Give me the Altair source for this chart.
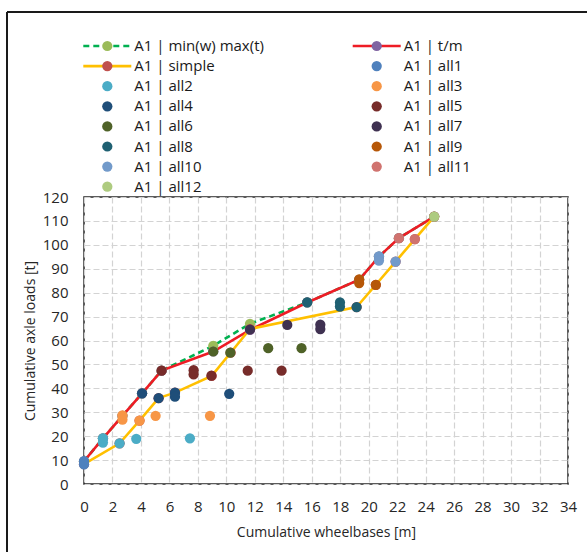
import altair as alt
import pandas as pd

# ---------------- data ----------------
X_TICKS = list(range(0, 35, 2))
Y_TICKS = list(range(0, 121, 10))

SERIES = ["A1 | min(w) max(t)", "A1 | t/m", "A1 | simple"] + [f"A1 | all{i}" for i in range(1, 13)]

# path series (cumulative wheelbase [m], cumulative axle load [t])
minw_x = [0, 1.33, 2.7, 4.08, 5.45, 9.08, 11.66, 15.68, 19.33, 20.72, 22.12, 24.6]
minw_y = [9.5, 19.1, 28.5, 37.9, 47.4, 57.8, 67.0, 75.9, 85.4, 95.1, 102.8, 111.8]
tm_x = [0, 1.33, 2.7, 4.08, 5.45, 9.08, 11.66, 15.68, 19.33, 20.72, 22.12, 24.6]
tm_y = [9.5, 19.1, 28.5, 37.9, 47.4, 55.4, 64.4, 75.9, 85.4, 95.1, 102.8, 111.8]
simple_x = [0, 2.5, 3.9, 5.24, 6.39, 8.97, 10.3, 11.66, 19.15, 20.5, 21.89, 23.24, 24.6]
simple_y = [8.3, 17.0, 26.5, 35.9, 38.2, 45.2, 54.9, 64.8, 74.0, 83.3, 93.0, 102.4, 111.8]

# scatter series
all1_x = [0, 0];                              all1_y = [9.6, 8.2]
all2_x = [1.33, 1.33, 2.5, 3.67, 7.44];       all2_y = [19.1, 17.3, 17.0, 18.9, 19.1]
all3_x = [2.7, 2.7, 3.9, 5.03, 8.85];         all3_y = [28.7, 26.9, 26.5, 28.5, 28.5]
all4_x = [4.08, 5.24, 6.39, 6.39, 10.2];      all4_y = [37.9, 35.9, 38.2, 36.5, 37.7]
all5_x = [5.45, 7.7, 7.7, 8.95, 11.5, 13.88]; all5_y = [47.4, 47.6, 45.8, 45.3, 47.4, 47.4]
all6_x = [9.08, 10.28, 12.94, 15.28];         all6_y = [55.4, 54.9, 56.8, 56.8]
all7_x = [11.66, 14.28, 16.6, 16.6];          all7_y = [64.6, 66.5, 66.6, 64.8]
all8_x = [15.68, 17.98, 17.98, 19.15];        all8_y = [75.9, 75.9, 74.2, 74.0]
all9_x = [19.33, 19.33, 20.5];                all9_y = [85.6, 84.0, 83.3]
all10_x = [20.72, 20.72, 21.89];              all10_y = [95.2, 93.4, 93.0]
all11_x = [22.12, 23.24];                     all11_y = [102.8, 102.4]
all12_x = [24.6];                             all12_y = [111.8]

# ---------------- styles ----------------
MARKER_COLORS = ["#9BBB59", "#8064A2", "#C0504D",
                 "#4F81BD", "#4BACC6", "#F79646", "#1F4E79", "#772C2A", "#4F6228",
                 "#3F3151", "#1F6072", "#B65708", "#729ACA", "#D0736F", "#AECB80"]
LINE_COLORS = {"A1 | min(w) max(t)": "#00B050", "A1 | t/m": "#EE1C25", "A1 | simple": "#FFC000"}
FONT = "Open Sans"
DOT = 105

paths = [(minw_x, minw_y), (tm_x, tm_y), (simple_x, simple_y)]
scatters = [(all1_x, all1_y), (all2_x, all2_y), (all3_x, all3_y), (all4_x, all4_y),
            (all5_x, all5_y), (all6_x, all6_y), (all7_x, all7_y), (all8_x, all8_y),
            (all9_x, all9_y), (all10_x, all10_y), (all11_x, all11_y), (all12_x, all12_y)]

rows = []
for s, (xs, ys) in enumerate(paths + scatters):
    for i, (xv, yv) in enumerate(zip(xs, ys)):
        rows.append({"series": SERIES[s], "s": s, "i": i, "x": xv, "y": yv,
                     "color": MARKER_COLORS[s]})
df = pd.DataFrame(rows)

leg = pd.DataFrame({"label": SERIES,
                    "row": [k // 2 for k in range(len(SERIES))],
                    "col": [k % 2 for k in range(len(SERIES))],
                    "color": MARKER_COLORS})

# ---------------- main plot ----------------
common_axis = dict(grid=True, gridDash=[6, 3], gridColor="#d3d3d3", gridWidth=1.2,
                   ticks=False, domain=False, labelFlush=False,
                   labelFontSize=15, titleFontSize=14, labelFont=FONT, titleFont=FONT,
                   labelColor="#262626", titleColor="#262626", titleFontWeight="normal")
x_enc = alt.X("x:Q", scale=alt.Scale(domain=[0, 34], nice=False),
              axis=alt.Axis(values=X_TICKS, title="Cumulative wheelbases [m]",
                            labelPadding=15, titlePadding=11, **common_axis))
y_enc = alt.Y("y:Q", scale=alt.Scale(domain=[0, 120], nice=False),
              axis=alt.Axis(values=Y_TICKS, title="Cumulative axle loads [t]",
                            labelPadding=16, titlePadding=5, **common_axis))

base = alt.Chart(df)
def path(name, **kw):
    return base.transform_filter(alt.datum.series == name).mark_line(
        color=LINE_COLORS[name], strokeWidth=2.6, **kw).encode(
        x=x_enc, y=y_enc, order="i:Q")

line_layers = [
    path("A1 | min(w) max(t)", strokeDash=[6, 4]),
    path("A1 | t/m"),
    path("A1 | simple"),
]
path_markers = base.transform_filter(alt.datum.s < 3).mark_circle(size=DOT, opacity=1).encode(
    x=x_enc, y=y_enc, color=alt.Color("color:N", scale=None))
points = base.transform_filter(alt.datum.s >= 3).mark_circle(size=DOT, opacity=1).encode(
    x=x_enc, y=y_enc, color=alt.Color("color:N", scale=None), order="s:Q")

main = alt.layer(*line_layers, path_markers, points)

# ---------------- legend ----------------
lx = alt.X("col:Q", scale=alt.Scale(domain=[0, 1], range=[23.3, 292.7]), axis=None)
ly = alt.Y("row:Q", scale=alt.Scale(domain=[0, 7], range=[-151, -10.3]), axis=None)
lbase = alt.Chart(leg)

def leg_line(name, **kw):
    return lbase.transform_filter(alt.datum.label == name).mark_rule(
        color=LINE_COLORS[name], strokeWidth=2.6, xOffset=-24, x2Offset=24, **kw).encode(
        x=lx, x2="col:Q", y=ly)

leg_lines = [leg_line("A1 | min(w) max(t)", strokeDash=[6, 4]),
             leg_line("A1 | t/m"), leg_line("A1 | simple")]
leg_dots = lbase.mark_circle(size=DOT, opacity=1).encode(
    x=lx, y=ly, color=alt.Color("color:N", scale=None))
leg_text = lbase.mark_text(align="left", baseline="middle", dx=27, fontSize=15,
                           font=FONT, color="#1a1a1a").encode(x=lx, y=ly, text="label:N")

frame_src = alt.Data(values=[{}])
frame_top = alt.Chart(frame_src).mark_rule(color="#1a1a1a", strokeWidth=2).encode(
    x=alt.value(-77), x2=alt.value(620), y=alt.value(-185))
frame_left = alt.Chart(frame_src).mark_rule(color="#1a1a1a", strokeWidth=2).encode(
    x=alt.value(-77), y=alt.value(-185), y2=alt.value(400))

legend = alt.layer(*leg_lines, leg_dots, leg_text, frame_top, frame_left)

chart = alt.layer(main, legend).resolve_scale(x="independent", y="independent").properties(
    width=484, height=287,
    autosize=alt.AutoSizeParams(type="none"),
    padding={"left": 84, "top": 197, "right": 19, "bottom": 68},
    background="white",
).configure_view(stroke="#262626", strokeWidth=1.5)

chart.save("out.html", embed_options={"renderer": "svg", "actions": False})
